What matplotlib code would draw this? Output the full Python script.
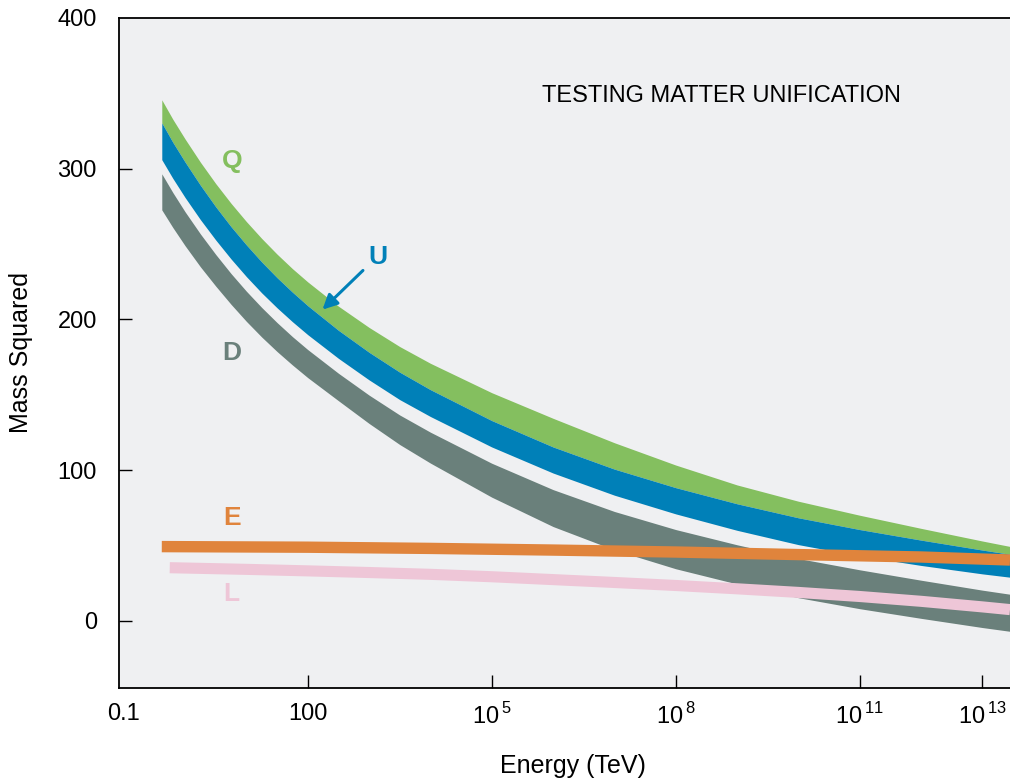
import numpy as np
import matplotlib
matplotlib.use('Agg')
import matplotlib.pyplot as plt

plt.rcParams['font.family'] = ['Liberation Sans', 'DejaVu Sans']
plt.rcParams['mathtext.fontset'] = 'custom'
plt.rcParams['mathtext.rm'] = 'Liberation Sans'

# log10 of energy (TeV) where the bands were read
logE = [-0.38, -0.2, 0, 0.25, 0.5, 0.75, 1, 1.25, 1.5, 1.75, 2, 2.5, 3, 3.5, 4,
        5, 6, 7, 8, 9, 10, 11, 12, 13, 13.45]

q_top = [345.7, 332.8, 319.7, 304.3, 290.1, 277.0, 264.9, 253.7, 243.3, 233.7,
         224.9, 208.8, 194.7, 182.0, 170.9, 151.4, 134.4, 118.2, 103.4, 90.2,
         79.4, 70.1, 61.4, 53.0, 49.4]
u_top = [330.4, 317.5, 304.4, 289.0, 274.7, 261.5, 249.4, 238.1, 227.7, 218.1,
         209.1, 192.8, 178.2, 165.0, 153.4, 132.9, 115.4, 100.7, 88.4, 77.7,
         68.4, 60.6, 53.6, 47.0, 44.2]
u_bot = [306.0, 293.6, 280.9, 266.2, 252.7, 240.1, 228.4, 217.6, 207.7, 198.5,
         189.9, 174.2, 159.9, 146.8, 135.6, 115.4, 98.1, 83.4, 71.0, 60.1,
         50.6, 43.1, 36.8, 31.2, 29.0]
d_top = [296.6, 284.2, 271.4, 256.7, 243.1, 230.4, 218.7, 207.9, 197.9, 188.6,
         180.0, 164.3, 149.8, 136.6, 125.2, 104.6, 87.1, 72.6, 60.6, 50.5,
         41.4, 33.9, 27.0, 20.4, 17.7]
d_bot = [272.7, 261.0, 248.9, 234.9, 222.1, 210.0, 198.7, 188.3, 178.7, 169.8,
         161.4, 146.1, 131.0, 117.0, 104.7, 82.1, 62.6, 47.1, 34.6, 24.5,
         15.4, 8.1, 1.7, -4.4, -6.9]

e_logE = [-0.38, 2, 4, 6, 8, 10, 12, 13.45]
e_val = [49.3, 48.9, 48.1, 47.0, 45.7, 44.0, 42.4, 40.4]
l_logE = [-0.25, 1, 2, 3, 4, 5, 6, 7, 8, 9, 10, 11, 12, 13, 13.45]
l_val = [35.3, 34.2, 33.2, 32.1, 30.9, 29.3, 27.4, 25.5, 23.5, 21.3, 18.9,
         16.2, 13.0, 9.3, 7.5]

xticks = [0.1, 100, 1e5, 1e8, 1e11, 1e13]
xtick_labels = ['0.1', '100', r'$10^{\,5}$', r'$10^{\,8}$', r'$10^{\,11}$', r'$10^{\,13}$']
yticks = [0, 100, 200, 300, 400]

c_q = '#84bf5f'
c_u = '#0080b8'
c_d = '#6a807b'
c_e = '#e0843c'
c_l = '#eec6d7'

E = 10 ** np.array(logE)

fig = plt.figure(figsize=(10.10, 7.78), dpi=100)
ax = fig.add_axes([0.1178, 0.1157, 0.8822, 0.8612])
ax.set_facecolor('#eff0f2')

ax.fill_between(E, q_top, u_top, color=c_q, lw=0)
ax.fill_between(E, u_top, u_bot, color=c_u, lw=0)
ax.fill_between(E, d_top, d_bot, color=c_d, lw=0)
ax.plot(10 ** np.array(e_logE), e_val, color=c_e, lw=8.2, solid_capstyle='butt')
ax.plot(10 ** np.array(l_logE), l_val, color=c_l, lw=8.0, solid_capstyle='butt')

ax.set_xscale('log')
ax.set_xlim(10 ** -1.078, 10 ** 13.45)
ax.set_ylim(-44.5, 400)
ax.minorticks_off()
ax.set_xticks(xticks)
ax.set_xticklabels(xtick_labels)
ax.set_yticks(yticks)
ax.tick_params(direction='in', length=9.5, width=1.0, labelsize=17, pad=11)
ax.tick_params(axis='y', pad=16)
ax.xaxis.get_major_ticks()[0].tick1line.set_visible(False)
ax.yaxis.get_major_ticks()[-1].tick1line.set_visible(False)
for s in ['left', 'bottom', 'top']:
    ax.spines[s].set_linewidth(1.3)
ax.spines['right'].set_visible(False)

ax.set_xlabel('Energy (TeV)', fontsize=18)
ax.xaxis.set_label_coords(0.51, -0.098)
ax.set_ylabel('Mass Squared', fontsize=18)
ax.yaxis.set_label_coords(-0.096, 0.5)

ax.text(10 ** 8.74, 348.4, 'TESTING MATTER UNIFICATION', fontsize=17,
        ha='center', va='center')

lab = dict(fontsize=19, fontweight='bold', ha='center', va='center')
ax.text(10 ** 0.76, 305, 'Q', color=c_q, **lab)
ax.text(10 ** 3.14, 241.5, 'U', color=c_u, **lab)
ax.text(10 ** 0.76, 177.7, 'D', color=c_d, **lab)
ax.text(10 ** 0.76, 68, 'E', color=c_e, **lab)
ax.text(10 ** 0.76, 17.7, 'L', color=c_l, **lab)

ax.annotate('', xy=(10 ** 2.24, 206.5), xytext=(10 ** 2.9, 232.5),
            arrowprops=dict(arrowstyle='-|>', color=c_u, lw=2.2,
                            mutation_scale=22, shrinkA=0, shrinkB=0))

fig.savefig('out.png', dpi=100)
